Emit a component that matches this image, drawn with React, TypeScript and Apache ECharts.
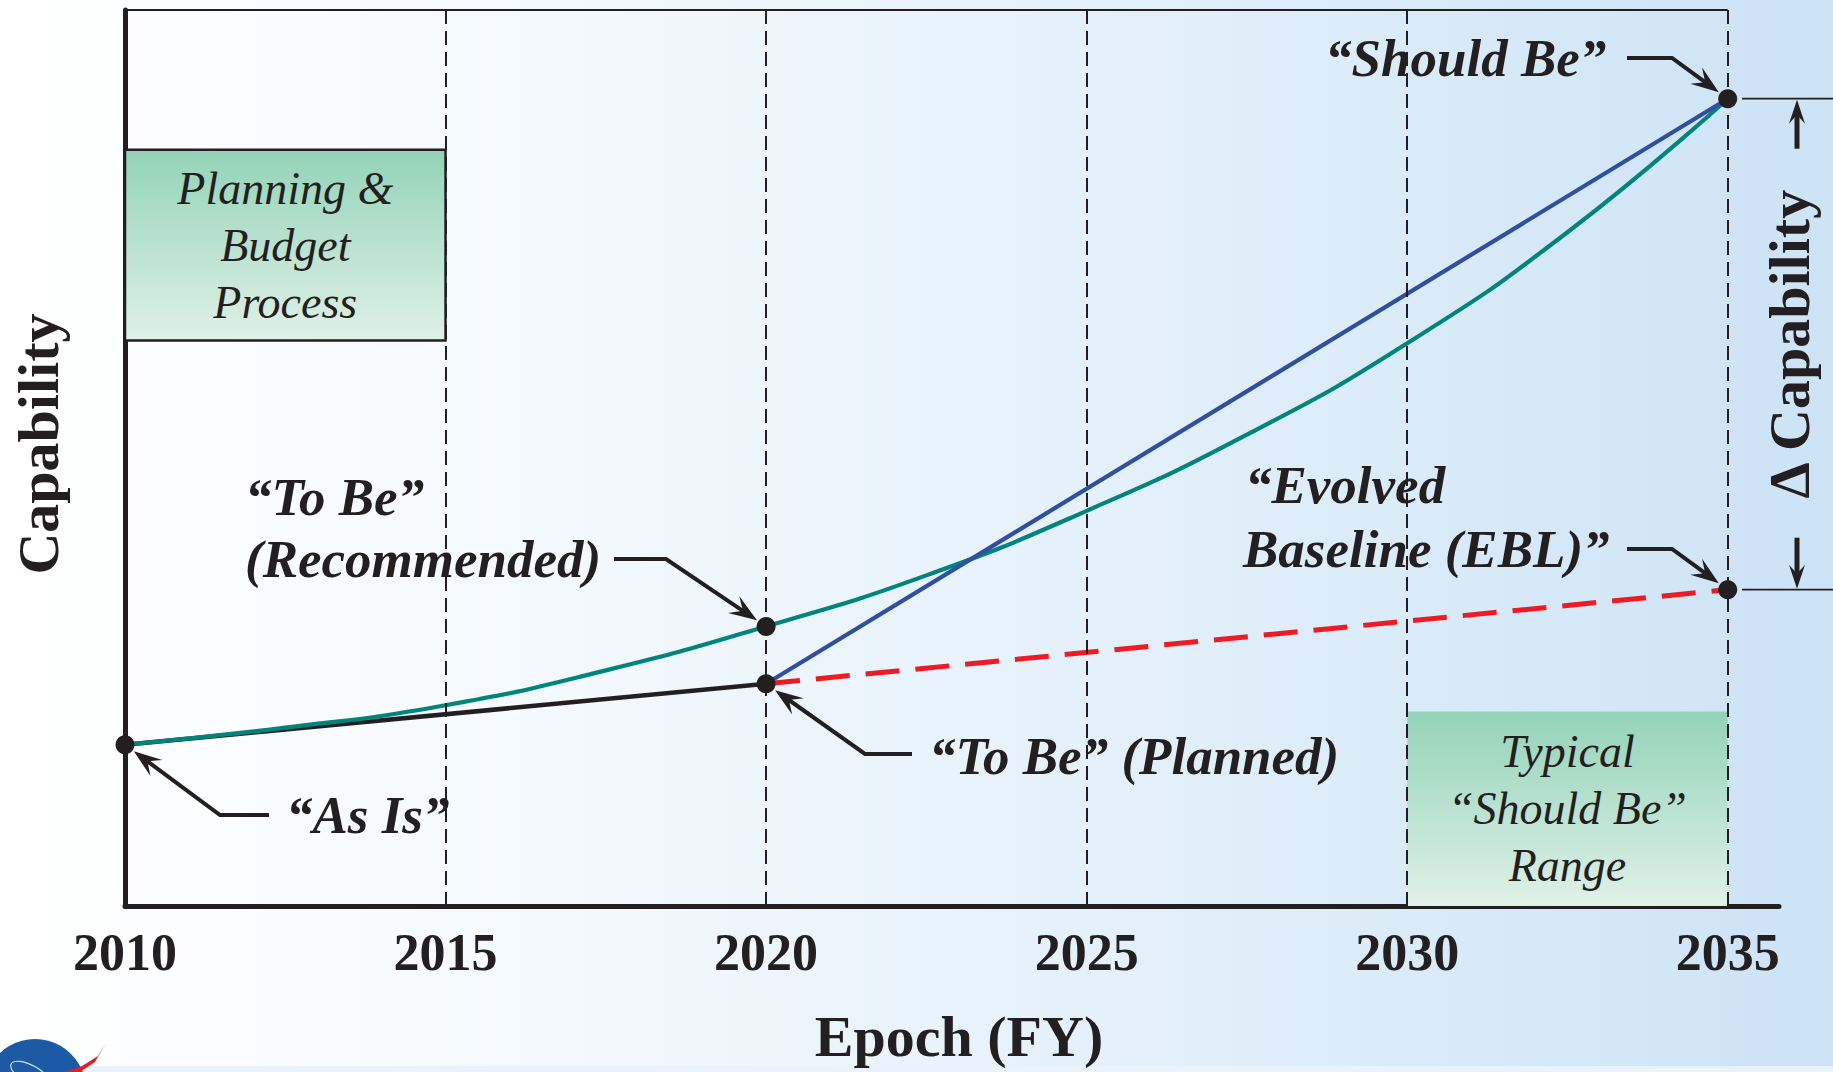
import React, { useEffect, useRef } from 'react';
import * as echarts from 'echarts';

// ---- data ----
const tickYears = [2010, 2015, 2020, 2025, 2030, 2035];
const gridYears = [2015, 2020, 2025, 2030, 2035];

const plannedYears = [2010, 2020];
const plannedValues = [18.0, 24.8];

const eblYears = [2020, 2035];
const eblValues = [24.8, 35.3];

const shouldBeYears = [2020, 2035];
const shouldBeValues = [24.8, 90.1];

const recommendedYears = [2010, 2012.5, 2015, 2017.5, 2020, 2022.5, 2025, 2027.5, 2030, 2032.5, 2035];
const recommendedValues = [18.0, 19.9, 22.4, 26.3, 31.2, 36.9, 44.1, 52.6, 62.8, 75.2, 90.1];

const keyPointNames = ['As Is', 'To Be (Planned)', 'To Be (Recommended)', 'Should Be', 'EBL'];
const keyPointYears = [2010, 2020, 2020, 2035, 2035];
const keyPointValues = [18.0, 24.8, 31.2, 90.1, 35.3];

const planningBoxYears = [2010, 2015];
const planningBoxValues = [63.1, 84.4];
const rangeBoxYears = [2030, 2035];
const rangeBoxValues = [0, 21.7];

const zip = (xs: number[], ys: number[]) => xs.map((x, i) => [x, ys[i]]);

export default function App() {
  const ref = useRef<HTMLDivElement>(null);

  useEffect(() => {
    document.body.style.margin = '0';
    document.body.style.overflow = 'hidden';
    const el = ref.current!;
    const chart = echarts.init(el, null, { renderer: 'svg' });
    const ink = '#231f20';
    const serif = '"Liberation Serif", "Times New Roman", serif';
    const boxFill = () =>
      new echarts.graphic.LinearGradient(0, 0, 0, 1, [
        { offset: 0, color: '#93d3b8' },
        { offset: 1, color: '#e0f1e8' },
      ]);
    const boxLabel = (text: string) => ({
      show: true,
      position: 'inside',
      formatter: text,
      fontFamily: serif,
      fontStyle: 'italic',
      fontSize: 46,
      lineHeight: 57,
      color: ink,
      align: 'center',
    });

    const option: any = {
      animation: false,
      backgroundColor: 'transparent',
      grid: { left: 125, right: 54, top: 10, bottom: 166, containLabel: false },
      xAxis: {
        type: 'value',
        min: 2010,
        max: 2035.8,
        interval: 5,
        name: 'Epoch (FY)',
        nameLocation: 'middle',
        nameGap: 101,
        nameTextStyle: { fontFamily: serif, fontWeight: 'bold', fontSize: 58, color: ink, padding: [0, 0, 0, 14] },
        axisLine: { show: true, onZero: false, lineStyle: { color: ink, width: 5 } },
        axisTick: { show: false },
        splitLine: { show: false },
        axisLabel: {
          formatter: (v: number) => (tickYears.includes(v) ? String(v) : ''),
          margin: 20,
          fontFamily: serif,
          fontWeight: 'bold',
          fontSize: 52,
          color: ink,
        },
      },
      yAxis: {
        type: 'value',
        min: 0,
        max: 100,
        name: 'Capability',
        nameLocation: 'middle',
        nameRotate: 90,
        nameGap: 58,
        nameTextStyle: { fontFamily: serif, fontWeight: 'bold', fontSize: 58, color: ink, padding: [0, 0, 0, 28] },
        axisLine: { show: true, onZero: false, lineStyle: { color: ink, width: 5 } },
        axisTick: { show: false },
        axisLabel: { show: false },
        splitLine: { show: false },
      },
      series: [
        {
          name: 'To Be (Planned)',
          type: 'line',
          data: zip(plannedYears, plannedValues),
          symbol: 'none',
          lineStyle: { color: ink, width: 4.5 },
          z: 2,
          markArea: {
            silent: true,
            data: [
              [
                {
                  xAxis: planningBoxYears[0],
                  yAxis: planningBoxValues[0],
                  itemStyle: { color: boxFill(), borderColor: ink, borderWidth: 2.5 },
                  label: boxLabel('Planning &\nBudget\nProcess'),
                },
                { xAxis: planningBoxYears[1], yAxis: planningBoxValues[1] },
              ],
              [
                {
                  xAxis: rangeBoxYears[0],
                  yAxis: rangeBoxValues[0],
                  itemStyle: { color: boxFill(), borderWidth: 0 },
                  label: boxLabel('Typical\n\u201CShould Be\u201D\nRange'),
                },
                { xAxis: rangeBoxYears[1], yAxis: rangeBoxValues[1] },
              ],
            ],
          },
        },
        {
          name: 'To Be (Recommended)',
          type: 'line',
          data: zip(recommendedYears, recommendedValues),
          smooth: 0.5,
          symbol: 'none',
          lineStyle: { color: '#00857c', width: 4.2 },
          z: 3,
          markLine: {
            silent: true,
            symbol: ['none', 'none'],
            label: { show: false },
            lineStyle: { type: [14, 7], color: ink, width: 2 },
            data: gridYears.map((y) => ({ xAxis: y })),
          },
        },
        {
          name: 'Should Be',
          type: 'line',
          data: zip(shouldBeYears, shouldBeValues),
          symbol: 'none',
          lineStyle: { color: '#2f4fa2', width: 4.2 },
          z: 3,
        },
        {
          name: 'Evolved Baseline (EBL)',
          type: 'line',
          data: zip(eblYears, eblValues),
          symbol: 'none',
          lineStyle: { color: '#ed1c24', width: 5, type: [34, 16] },
          z: 3,
          markLine: {
            silent: true,
            symbol: ['none', 'none'],
            label: { show: false },
            lineStyle: { type: 'solid', color: ink, width: 1.8 },
            data: [[{ coord: [tickYears[0], 100] }, { coord: [tickYears[tickYears.length - 1], 100] }]],
          },
        },
        {
          name: 'Key points',
          type: 'scatter',
          data: keyPointYears.map((x, i) => ({ name: keyPointNames[i], value: [x, keyPointValues[i]] })),
          symbolSize: 19,
          itemStyle: { color: ink, opacity: 1 },
          clip: false,
          z: 6,
        },
      ],
    };
    chart.setOption(option);

    const px = (i: number) => chart.convertToPixel({ gridIndex: 0 }, [keyPointYears[i], keyPointValues[i]]) as number[];
    const pAsIs = px(0);
    const pPlanned = px(1);
    const pRec = px(2);
    const pShould = px(3);
    const pEbl = px(4);

    const annoFont = { fontFamily: serif, fontWeight: 'bold', fontStyle: 'italic', fontSize: 53, fill: ink };
    const text = (t: string, x: number, y: number, extra: any = {}) => ({
      type: 'text',
      x,
      y,
      z: 60,
      style: { text: t, ...annoFont, align: 'left', verticalAlign: 'middle', textAlign: 'left', textVerticalAlign: 'middle', ...extra },
    });

    const head = (tip: number[], ux: number, uy: number, len: number, half: number, notch: number) => {
      const nx = -uy;
      const ny = ux;
      const base = [tip[0] - ux * len, tip[1] - uy * len];
      const nk = [tip[0] - ux * notch, tip[1] - uy * notch];
      return {
        nk,
        poly: {
          type: 'polygon',
          z: 60,
          shape: { points: [tip, [base[0] + nx * half, base[1] + ny * half], nk, [base[0] - nx * half, base[1] - ny * half]] },
          style: { fill: ink },
        },
      };
    };

    const leader = (pts: number[][], dot: number[]) => {
      const e = pts[pts.length - 1];
      const dx = dot[0] - e[0];
      const dy = dot[1] - e[1];
      const d = Math.hypot(dx, dy);
      const ux = dx / d;
      const uy = dy / d;
      const tip = [dot[0] - ux * 11, dot[1] - uy * 11];
      const h = head(tip, ux, uy, 28, 10, 17);
      return [
        { type: 'polyline', z: 60, shape: { points: [...pts, h.nk] }, style: { stroke: ink, lineWidth: 4, fill: 'none' } },
        h.poly,
      ];
    };

    const upHead = head([1797, pShould[1] + 1], 0, -1, 24, 8, 15);
    const downHead = head([1797, pEbl[1] - 1], 0, 1, 24, 8, 15);

    const graphic: any[] = [
      // bottom strip and logo
      { type: 'rect', z: 0, shape: { x: 0, y: 1066, width: 1833, height: 6 }, style: { fill: '#eaf3fb' } },
      { type: 'circle', z: 1, shape: { cx: 35, cy: 1090, r: 51 }, style: { fill: '#1d5aa6' } },
      { type: 'ellipse', z: 2, shape: { cx: 30, cy: 1074, rx: 22, ry: 9 }, rotation: -0.5, originX: 30, originY: 1074, style: { fill: 'none', stroke: '#cfe0f4', lineWidth: 1.2 } },
      { type: 'polygon', z: 2, shape: { points: [[106, 1043], [98, 1056], [82, 1066], [64, 1072], [80, 1072], [95, 1062]] }, style: { fill: '#e31f26' } },

      // Should Be
      text('\u201CShould Be\u201D', 1325, 58),
      ...leader([[1627, 58], [1672, 58]], pShould),
      // EBL
      text('\u201CEvolved', 1245, 485),
      text('Baseline (EBL)\u201D', 1243, 549),
      ...leader([[1627, 549], [1672, 549]], pEbl),
      // Recommended
      text('\u201CTo Be\u201D', 245, 497),
      text('(Recommended)', 245, 559),
      ...leader([[614, 559], [666, 559]], pRec),
      // Planned
      text('\u201CTo Be\u201D (Planned)', 929, 756),
      ...leader([[912, 754], [865, 754]], pPlanned),
      // As Is
      text('\u201CAs Is\u201D', 286, 815),
      ...leader([[269, 815], [220, 815]], pAsIs),

      // Delta capability bracket
      { type: 'line', z: 60, shape: { x1: 1742, y1: pShould[1], x2: 1833, y2: pShould[1] }, style: { stroke: ink, lineWidth: 1.8 } },
      { type: 'line', z: 60, shape: { x1: 1742, y1: pEbl[1], x2: 1833, y2: pEbl[1] }, style: { stroke: ink, lineWidth: 1.8 } },
      { type: 'line', z: 60, shape: { x1: 1797, y1: pShould[1] + 50, x2: 1797, y2: upHead.nk[1] }, style: { stroke: ink, lineWidth: 5 } },
      upHead.poly,
      { type: 'line', z: 60, shape: { x1: 1797, y1: pEbl[1] - 52, x2: 1797, y2: downHead.nk[1] }, style: { stroke: ink, lineWidth: 5 } },
      downHead.poly,
      {
        type: 'text',
        x: 1789,
        y: (pShould[1] + pEbl[1]) / 2,
        rotation: Math.PI / 2,
        z: 60,
        style: {
          text: '\u0394 Capability',
          fontFamily: serif,
          fontWeight: 'bold',
          fontSize: 58,
          fill: ink,
          align: 'center',
          verticalAlign: 'middle',
          textAlign: 'center',
          textVerticalAlign: 'middle',
        },
      },
    ];
    chart.setOption({ graphic });

    return () => chart.dispose();
  }, []);

  return (
    <div
      ref={ref}
      style={{
        width: 1833,
        height: 1072,
        background: 'linear-gradient(90deg, #ffffff 0%, #f4f9fd 30%, #e3f0fa 62%, #cce3f6 100%)',
      }}
    />
  );
}
